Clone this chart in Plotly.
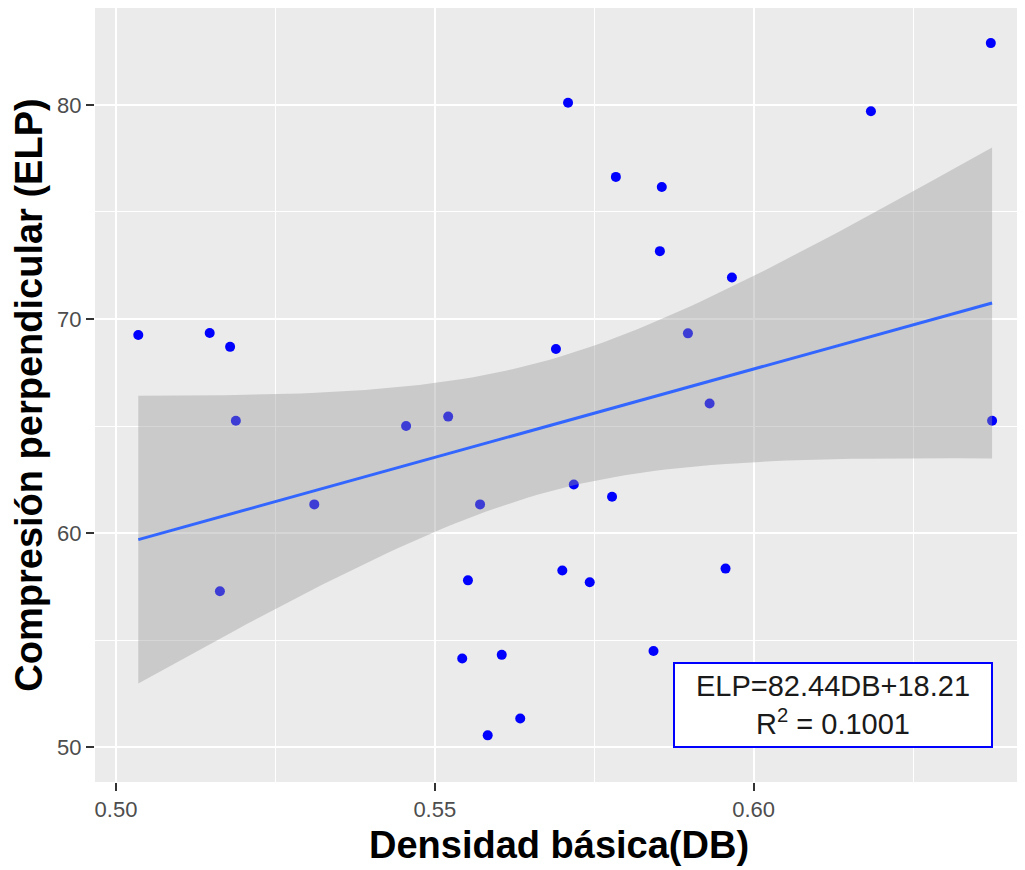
import numpy as np
import plotly.graph_objects as go

# Data
db = [0.5035, 0.5147, 0.5179, 0.5188, 0.5163, 0.5311, 0.5455, 0.5521, 0.5571, 0.5552,
      0.5543, 0.5605, 0.5583, 0.5634, 0.5690, 0.5709, 0.5700, 0.5718, 0.5743, 0.5784,
      0.5778, 0.5856, 0.5853, 0.5966, 0.5897, 0.5931, 0.6184, 0.6372, 0.6374, 0.5956,
      0.5843]
elp = [69.25, 69.35, 68.70, 65.25, 57.28, 61.34, 65.00, 65.44, 61.34, 57.79,
       54.14, 54.31, 50.55, 51.34, 68.60, 80.10, 58.25, 62.27, 57.70, 76.64,
       61.70, 76.17, 73.17, 71.94, 69.33, 66.05, 79.71, 82.89, 65.25, 58.34,
       54.49]
x_ticks = [0.50, 0.55, 0.60]
y_ticks = [50, 60, 70, 80]
eq_text = "ELP=82.44DB+18.21<br>R<sup>2</sup> = 0.1001"
x_title = "Densidad básica(DB)"
y_title = "Compresión perpendicular (ELP)"

# Linear fit with 95% confidence band (like geom_smooth(method="lm"))
x = np.array(db)
y = np.array(elp)
n = len(x)
b1, b0 = np.polyfit(x, y, 1)
resid = y - (b0 + b1 * x)
s = np.sqrt(np.sum(resid ** 2) / (n - 2))
t_crit = 2.045  # t(0.975, df=29)
xs = np.linspace(x.min(), x.max(), 80)
fit = b0 + b1 * xs
se = s * np.sqrt(1 / n + (xs - x.mean()) ** 2 / np.sum((x - x.mean()) ** 2))
upper = fit + t_crit * se
lower = fit - t_crit * se

font_family = "Liberation Sans, Arial, sans-serif"

fig = go.Figure()
fig.add_trace(go.Scatter(x=db, y=elp, mode="markers",
                         marker=dict(color="#0000FF", size=10, line=dict(width=0)),
                         showlegend=False, hoverinfo="skip"))
fig.add_trace(go.Scatter(x=xs, y=upper, mode="lines", line=dict(width=0),
                         showlegend=False, hoverinfo="skip"))
fig.add_trace(go.Scatter(x=xs, y=lower, mode="lines", line=dict(width=0),
                         fill="tonexty", fillcolor="rgba(153,153,153,0.4)",
                         showlegend=False, hoverinfo="skip"))
fig.add_trace(go.Scatter(x=xs, y=fit, mode="lines",
                         line=dict(color="#3366FF", width=3),
                         showlegend=False, hoverinfo="skip"))

fig.add_annotation(x=0.6124, y=51.97, xref="x", yref="y", text=eq_text,
                   showarrow=False, xanchor="center", yanchor="middle",
                   font=dict(family=font_family, size=29, color="#1a1a1a"),
                   bgcolor="white", bordercolor="#0000FF", borderwidth=2,
                   borderpad=5, width=306, height=72, align="center")

# the page adds an 8px body margin, so the figure is sized to fit the window
fig.update_layout(
    width=1017, height=862,
    margin=dict(l=87, r=2, t=0, b=88),
    paper_bgcolor="white", plot_bgcolor="#EBEBEB",
    font=dict(family=font_family),
    showlegend=False,
)
fig.update_xaxes(
    range=[0.49671, 0.64225], tickmode="array", tickvals=x_ticks,
    ticktext=[f"{v:.2f}" for v in x_ticks],
    tickfont=dict(size=22, color="#4D4D4D", family=font_family),
    ticks="outside", ticklen=8, tickwidth=2, tickcolor="#333333",
    showgrid=True, gridcolor="white", gridwidth=2, zeroline=False, showline=False,
    minor=dict(tickmode="array", tickvals=[0.525, 0.575, 0.625], showgrid=True,
               gridcolor="white", gridwidth=1, ticks=""),
    automargin=False,
    title=dict(text="<b>" + x_title + "</b>",
               font=dict(size=38, color="black", family=font_family), standoff=9),
)
fig.update_yaxes(
    range=[48.37, 84.53], tickmode="array", tickvals=y_ticks,
    ticktext=[str(v) for v in y_ticks],
    tickfont=dict(size=22, color="#4D4D4D", family=font_family),
    ticks="outside", ticklen=8, tickwidth=2, tickcolor="#333333",
    showgrid=True, gridcolor="white", gridwidth=2, zeroline=False, showline=False,
    minor=dict(tickmode="array", tickvals=[55, 65, 75], showgrid=True,
               gridcolor="white", gridwidth=1, ticks=""),
    automargin=False,
    title=dict(text="<b>" + y_title + "</b>",
               font=dict(size=38, color="black", family=font_family), standoff=4),
)
fig.write_html("out.html")
